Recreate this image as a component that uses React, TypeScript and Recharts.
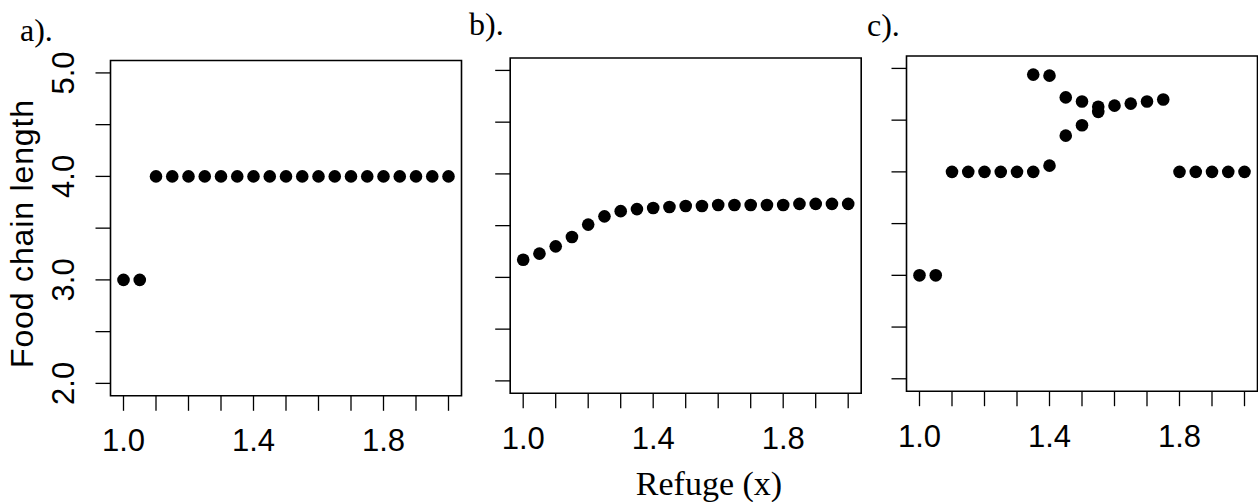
import React from 'react';
import { ScatterChart, Scatter, XAxis, YAxis, ReferenceArea } from 'recharts';

// Refuge values (x) shared by all panels
const refuge = [1.0, 1.05, 1.1, 1.15, 1.2, 1.25, 1.3, 1.35, 1.4, 1.45, 1.5, 1.55, 1.6, 1.65, 1.7, 1.75, 1.8, 1.85, 1.9, 1.95, 2.0];

// Panel a: food chain length
const chainA = [3, 3, 4, 4, 4, 4, 4, 4, 4, 4, 4, 4, 4, 4, 4, 4, 4, 4, 4, 4, 4];

// Panel b
const chainB = [3.17, 3.23, 3.3, 3.39, 3.51, 3.59, 3.64, 3.66, 3.67, 3.68, 3.69, 3.69, 3.7, 3.7, 3.7, 3.7, 3.7, 3.71, 3.71, 3.71, 3.71];

// Panel c: main branch and upper branch
const chainCMain = [3, 3, 4, 4, 4, 4, 4, 4, 4.06, 4.35, 4.45, 4.58, 4.64, 4.66, 4.68, 4.7, 4, 4, 4, 4, 4];
const refugeCUpper = [1.35, 1.4, 1.45, 1.5, 1.55];
const chainCUpper = [4.94, 4.93, 4.72, 4.68, 4.63];

// Axis ticks
const xTicks = [1.0, 1.1, 1.2, 1.3, 1.4, 1.5, 1.6, 1.7, 1.8, 1.9, 2.0];
const xTickLabels = [1.0, 1.4, 1.8];
const yTicks = [2, 2.5, 3, 3.5, 4, 4.5, 5];
const yTickLabels = [2, 3, 4, 5];
const xDomain = [0.96, 2.04];
const yDomain = [1.88, 5.12];

const panelLetters = ['a).', 'b).', 'c).'];
const yTitle = 'Food chain length';
const xTitle = 'Refuge (x)';

const W = 1258;
const H = 502;
const SANS = "'Liberation Sans', Arial, Helvetica, sans-serif";
const SERIF = "'Liberation Serif', 'Times New Roman', Times, serif";

type Box = { l: number; r: number; t: number; b: number };

const boxes: Box[] = [
  { l: 110.5, r: 461.5, t: 60.5, b: 395.8 },
  { l: 510.2, r: 861.2, t: 58.0, b: 393.3 },
  { l: 906.5, r: 1257.5, t: 56.0, b: 391.2 },
];

const near = (arr: number[], v: number) => arr.some((a) => Math.abs(a - v) < 1e-9);

const dot = (p: any) => <circle cx={p.cx} cy={p.cy} r={6.3} fill="#000" />;

function Panel({ box, series, yLabels }: { box: Box; series: { x: number; y: number }[][]; yLabels: boolean }) {
  const yAxisW = 60;
  const xAxisH = 70;
  const margin = {
    top: box.t,
    left: box.l - yAxisW,
    right: W - box.r,
    bottom: H - box.b - xAxisH,
  };
  const xTick = (p: any) => {
    const v = p.payload.value;
    if (!near(xTickLabels, v)) return <g />;
    return (
      <text x={p.x} y={box.b + 55.5} textAnchor="middle" fontSize={31} fontFamily={SANS} fill="#000">
        {v.toFixed(1)}
      </text>
    );
  };
  const yTick = (p: any) => {
    const v = p.payload.value;
    if (!yLabels || !near(yTickLabels, v)) return <g />;
    const tx = box.l - 36.5;
    return (
      <text
        x={tx}
        y={p.y}
        transform={`rotate(-90, ${tx}, ${p.y})`}
        textAnchor="middle"
        fontSize={31}
        fontFamily={SANS}
        fill="#000"
      >
        {v.toFixed(1)}
      </text>
    );
  };
  return (
    <div style={{ position: 'absolute', left: 0, top: 0 }}>
      <ScatterChart width={W} height={H} margin={margin}>
        <XAxis
          type="number"
          dataKey="x"
          domain={xDomain}
          ticks={xTicks}
          interval={0}
          height={xAxisH}
          axisLine={false}
          tickLine={{ stroke: '#000', strokeWidth: 1.3 }}
          tickSize={15}
          tick={xTick}
          allowDataOverflow
        />
        <YAxis
          type="number"
          dataKey="y"
          domain={yDomain}
          ticks={yTicks}
          interval={0}
          width={yAxisW}
          axisLine={false}
          tickLine={{ stroke: '#000', strokeWidth: 1.3 }}
          tickSize={15}
          tick={yTick}
          allowDataOverflow
        />
        <ReferenceArea
          x1={xDomain[0]}
          x2={xDomain[1]}
          y1={yDomain[0]}
          y2={yDomain[1]}
          fill="none"
          fillOpacity={0}
          stroke="#000"
          strokeWidth={1.6}
          ifOverflow="visible"
        />
        {series.map((s, i) => (
          <Scatter key={i} data={s} shape={dot} isAnimationActive={false} />
        ))}
      </ScatterChart>
    </div>
  );
}

const toPoints = (xs: number[], ys: number[]) => xs.map((x, i) => ({ x, y: ys[i] }));

export default function App() {
  const panels = [
    [toPoints(refuge, chainA)],
    [toPoints(refuge, chainB)],
    [toPoints(refuge, chainCMain), toPoints(refugeCUpper, chainCUpper)],
  ];
  const letterPos = [
    { x: 20, y: 41 },
    { x: 469, y: 35 },
    { x: 867, y: 36 },
  ];
  return (
    <div style={{ position: 'absolute', left: 0, top: 0, width: W, height: H, background: '#fff', overflow: 'hidden' }}>
      {panels.map((s, i) => (
        <Panel key={i} box={boxes[i]} series={s} yLabels={i === 0} />
      ))}
      <svg width={W} height={H} style={{ position: 'absolute', left: 0, top: 0, pointerEvents: 'none' }}>
        {panelLetters.map((t, i) => (
          <text key={t} x={letterPos[i].x} y={letterPos[i].y} fontSize={32} fontFamily={SERIF} fill="#000">
            {t}
          </text>
        ))}
        <text
          transform="rotate(-90)"
          x={-234}
          y={33.3}
          textAnchor="middle"
          fontSize={32}
          fontFamily={SANS}
          textLength={268}
          lengthAdjust="spacing"
          fill="#000"
        >
          {yTitle}
        </text>
        <text x={709} y={495} textAnchor="middle" fontSize={34} fontFamily={SERIF} fill="#000">
          {xTitle}
        </text>
      </svg>
    </div>
  );
}
